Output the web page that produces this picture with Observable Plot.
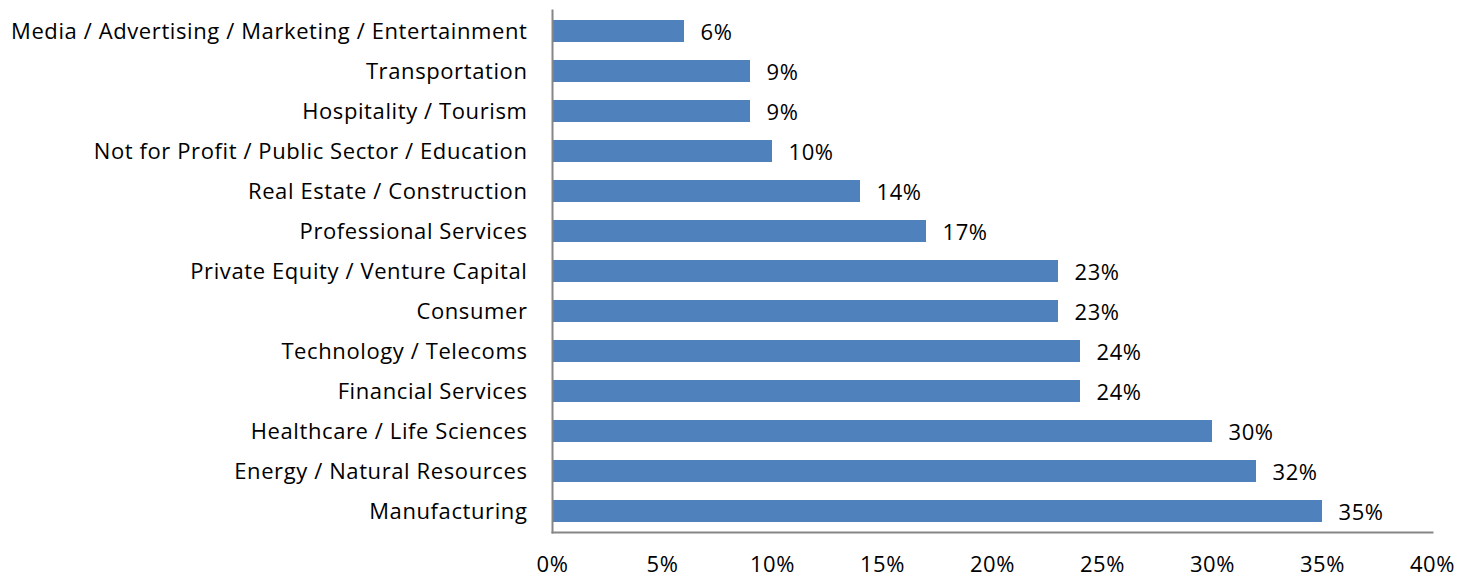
<!DOCTYPE html>
<html><head><meta charset="utf-8">
<script src="https://cdn.jsdelivr.net/npm/d3@7"></script>
<script src="https://cdn.jsdelivr.net/npm/@observablehq/plot@0.6"></script>
<style>body{margin:0;background:#fff;} svg{font-family:"Open Sans",sans-serif;} svg text{letter-spacing:0.6px;}</style>
</head><body><div id="chart"></div>
<script>
const categories = ["Media / Advertising / Marketing / Entertainment","Transportation","Hospitality / Tourism","Not for Profit / Public Sector / Education","Real Estate / Construction","Professional Services","Private Equity / Venture Capital","Consumer","Technology / Telecoms","Financial Services","Healthcare / Life Sciences","Energy / Natural Resources","Manufacturing"];
const values = [6, 9, 9, 10, 14, 17, 23, 23, 24, 24, 30, 32, 35];
const xTicks = [0, 5, 10, 15, 20, 25, 30, 35, 40];
const data = categories.map((c, i) => ({category: c, value: values[i]}));

const chart = Plot.plot({
  width: 1470, height: 578,
  marginLeft: 552, marginRight: 38, marginTop: 10, marginBottom: 46,
  style: {fontSize: "22px", fontFamily: "'Open Sans', sans-serif", color: "#000", background: "#fff"},
  x: {domain: [0, 40], ticks: xTicks, tickFormat: d => d + "%", label: null},
  y: {domain: categories, paddingInner: 0.452, paddingOuter: 0.224, align: 0.5, label: null},
  marks: [
    Plot.barX(data, {x: "value", y: "category", fill: "#4F81BD"}),
    Plot.text(data, {x: "value", y: "category", text: d => d.value + "%", textAnchor: "start", dx: 16, dy: 1, fontSize: 22, fill: "#000"}),
    Plot.axisX({ticks: xTicks, tickFormat: d => d + "%", tickSize: 0, tickPadding: 24, fontSize: 22, label: null}),
    Plot.axisY({tickSize: 0, tickPadding: 25, fontSize: 22, label: null}),
    Plot.frame({anchor: "bottom", stroke: "#868686", strokeWidth: 2}),
    Plot.frame({anchor: "left", stroke: "#868686", strokeWidth: 2})
  ]
});
document.getElementById("chart").append(chart);
</script></body></html>
